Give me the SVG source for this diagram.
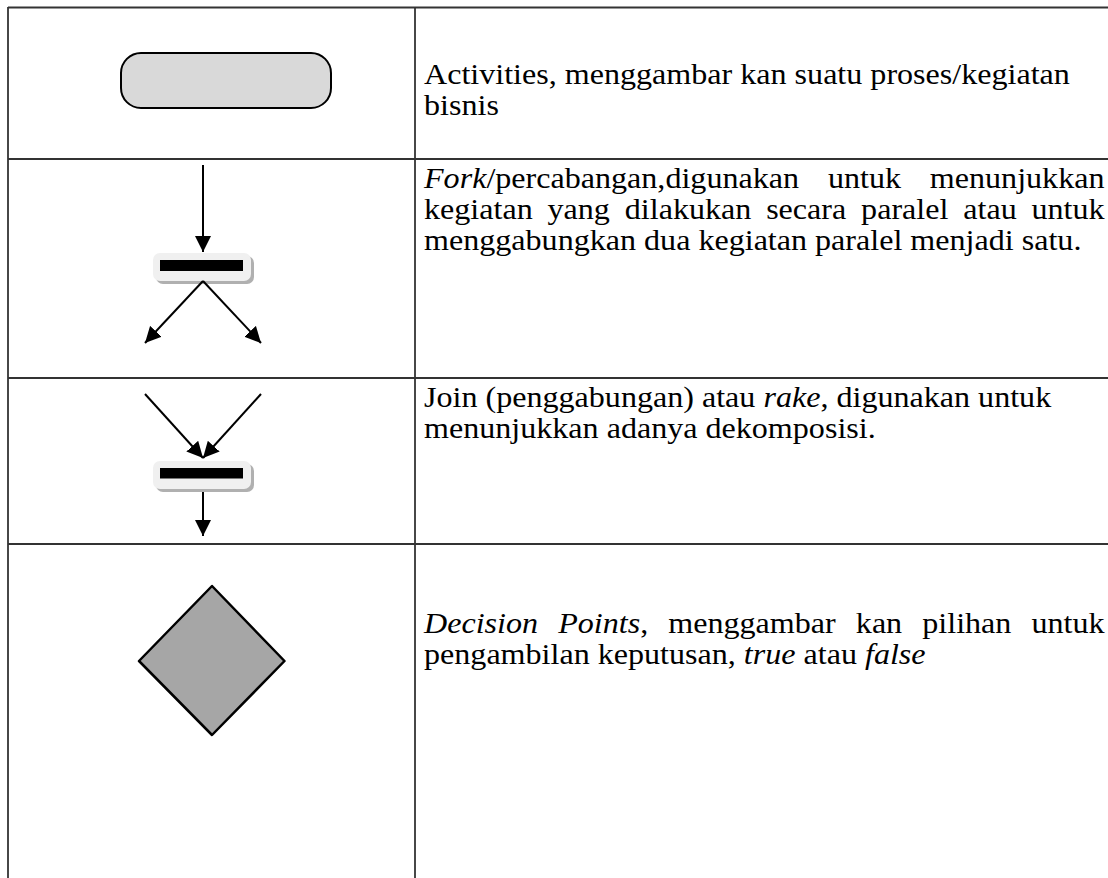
<svg xmlns="http://www.w3.org/2000/svg" width="1108" height="878" viewBox="0 0 1108 878">
<style>
.grid{stroke:#333;stroke-width:1.8;fill:none}
.arr{stroke:#000;stroke-width:2;fill:none;marker-end:url(#ah)}
.txt{font-family:"Liberation Serif","Times New Roman",Tinos,serif;font-size:30px;fill:#000}
.it{font-style:italic}
.barbg{fill:#f0f0f0}
.barsh{fill:#b0b0b0}
.bar{fill:#000}
</style>
<defs>
<marker id="ah" markerUnits="userSpaceOnUse" markerWidth="16" markerHeight="16" refX="15" refY="7.5" orient="auto" viewBox="0 0 15 15">
<path d="M0,0 L15,7.5 L0,15 z" fill="#000"/>
</marker>
</defs>
<rect width="1108" height="878" fill="#fff"/>
<g id="table">
<line class="grid" x1="8" y1="7.5" x2="1108" y2="7.5"/>
<line class="grid" x1="8" y1="7" x2="8" y2="878"/>
<line class="grid" x1="415" y1="7" x2="415" y2="878"/>
<line class="grid" x1="8" y1="159" x2="1108" y2="159"/>
<line class="grid" x1="8" y1="378" x2="1108" y2="378"/>
<line class="grid" x1="8" y1="544" x2="1108" y2="544"/>
</g>
<g id="activity">
<rect x="121" y="53" width="210" height="55" rx="20" ry="20" fill="#d9d9d9" stroke="#000" stroke-width="2"/>
<g transform="scale(1.07,1)">
<text class="txt" x="396.3" y="84"><tspan x="396.3" y="84">Activities, menggambar kan suatu proses/kegiatan</tspan><tspan x="396.3" y="115">bisnis</tspan></text>
</g>
</g>
<g id="fork">
<rect class="barsh" x="156" y="256" width="98" height="28" rx="7"/>
<rect class="barbg" x="153" y="253" width="98" height="28" rx="7"/>
<rect class="bar" x="160" y="260" width="83" height="11"/>
<g transform="scale(1.07,1)">
<text class="txt" x="396.3" y="188"><tspan x="396.3" y="188" style="word-spacing:19.5px"><tspan class="it">Fork</tspan>/percabangan,digunakan untuk menunjukkan</tspan><tspan x="396.3" y="219" style="word-spacing:6.4px">kegiatan yang dilakukan secara paralel atau untuk</tspan><tspan x="396.3" y="250">menggabungkan dua kegiatan paralel menjadi satu.</tspan></text>
</g>
</g>
<g id="join">
<rect class="barsh" x="156" y="464" width="98" height="28" rx="7"/>
<rect class="barbg" x="153" y="461" width="98" height="28" rx="7"/>
<rect class="bar" x="160" y="468" width="83" height="10.5"/>
<g transform="scale(1.07,1)">
<text class="txt" x="396.3" y="407"><tspan x="396.3" y="407">Join (penggabungan) atau <tspan class="it">rake</tspan>, digunakan untuk</tspan><tspan x="396.3" y="438">menunjukkan adanya dekomposisi.</tspan></text>
</g>
</g>
<g id="decision">
<polygon points="212,586 284.5,661 212,735 139,661" fill="#a6a6a6" stroke="#000" stroke-width="2.5" stroke-linejoin="round"/>
<g transform="scale(1.07,1)">
<text class="txt" x="396.3" y="633"><tspan x="396.3" y="633" style="word-spacing:11.3px"><tspan class="it">Decision Points</tspan>, menggambar kan pilihan untuk</tspan><tspan x="396.3" y="664">pengambilan keputusan, <tspan class="it">true</tspan> atau <tspan class="it">false</tspan></tspan></text>
</g>
</g>
<g id="connectors">
<line class="arr" x1="203" y1="165" x2="203" y2="252"/>
<line class="arr" x1="203" y1="281" x2="145" y2="343"/>
<line class="arr" x1="203" y1="281" x2="261" y2="343"/>
<line class="arr" x1="145" y1="394" x2="203" y2="458"/>
<line class="arr" x1="261" y1="394" x2="203" y2="458"/>
<line class="arr" x1="203" y1="492" x2="203" y2="536"/>
</g>
</svg>
